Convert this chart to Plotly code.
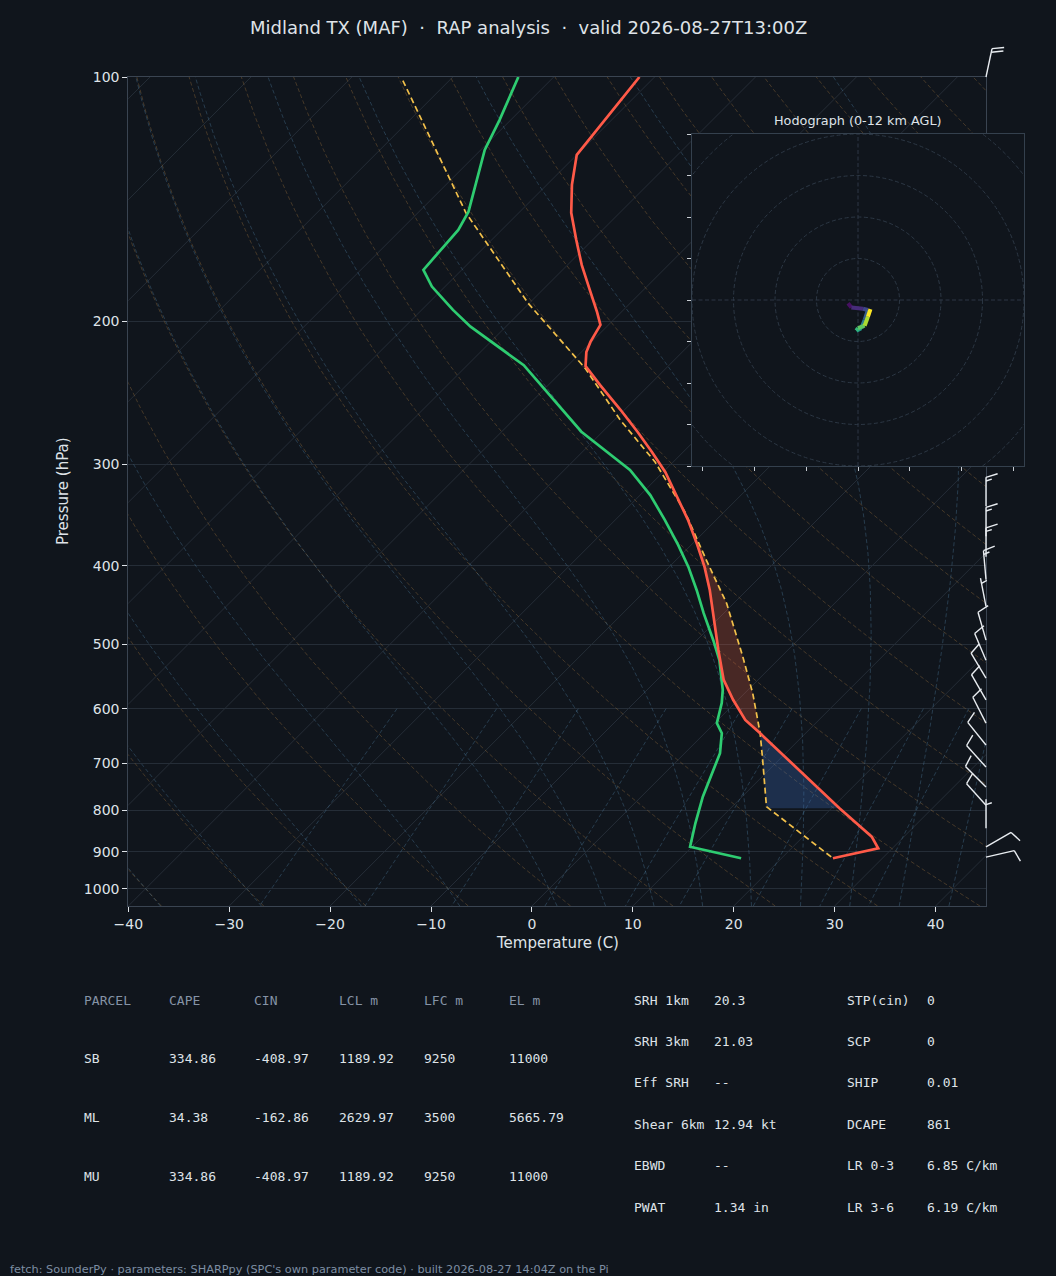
import numpy as np
import plotly.graph_objects as go
from plotly.colors import sample_colorscale

# --- sounding (hPa, degC) ---
env_p = [100, 124.7, 135.8, 147, 158.8, 170.4, 183, 194.8, 202, 212, 218.2, 227, 239.5, 257,
         273.7, 289.7, 306.6, 327.3, 351.2, 377, 401.3, 428.4, 466.5, 507.9, 553, 585, 619.4,
         643.3, 795.9, 862.5, 891.5, 917]
env_t = [-71.5, -70.0, -67.5, -64.8, -61.6, -58.6, -55.3, -52.4, -50.8, -50.1, -49.5, -48.2, -44.9,
         -40.4, -36.5, -33.1, -29.8, -26.4, -22.8, -19.4, -16.5, -13.7, -10.3, -6.9, -3.4, -0.5,
         2.7, 5.5, 20.8, 26.8, 28.6, 25.1]

dew_p = [100, 113, 123, 135.2, 146.5, 154.3, 172.8, 181.2, 193.6, 203, 226.5, 273.5, 297.8, 304.8,
         327.3, 351.2, 377, 401.3, 428.4, 457.6, 493.7, 522.6, 568.9, 590.5, 625, 643.3, 680.8,
         707.2, 770, 830.4, 887.5, 917]
dew_t = [-83.5, -81.1, -79.6, -77.2, -75.1, -74.3, -73.8, -71.3, -66.9, -63.5, -54.4, -42.1, -35.3,
         -33.5, -29.0, -25.1, -21.3, -18.1, -15.0, -12.0, -8.4, -5.8, -2.5, -1.3, 0.2, 1.7, 3.5,
         4.3, 6.1, 8.0, 9.8, 16.0]

parcel_p = [101, 147.1, 190, 228.5, 264.6, 298, 343.3, 393.6, 445, 517.8, 574.3, 643.3, 694, 792.2, 917]
parcel_t = [-94.6, -75.2, -60.1, -48.0, -39.4, -31.8, -23.9, -17.0, -10.7, -3.8, 0.8, 5.5, 8.4, 13.4, 25.1]
lcl_p = 796

# wind barbs (direction from, deg / speed, kt)
barb_p = [100, 338, 368, 390, 416, 449, 494, 523, 550, 585, 625, 665, 708, 749, 789, 842, 888, 914]
barb_dir = [12, 0, 0, 0, 355, 349, 344, 337, 329, 330, 333, 321, 318, 315, 318, 0, 60, 77]
barb_spd = [20, 15, 15, 15, 15, 5, 10, 10, 10, 10, 10, 10, 10, 10, 10, 5, 10, 10]

# hodograph (kt) coloured by height (km AGL)
hodo_z = [0, 0.5, 1.5, 2.5, 3.5, 5, 6.5, 8, 9, 10.5, 12]
hodo_u = [-2.4, -1.6, 1.2, 2.4, 1.6, 0.8, -0.4, 0.0, 1.6, 2.4, 3.0]
hodo_v = [-0.8, -1.8, -2.1, -2.4, -4.8, -6.8, -7.4, -6.8, -6.2, -4.0, -2.2]

t_ticks = list(range(-40, 41, 10))
p_ticks = [100, 200, 300, 400, 500, 600, 700, 800, 900, 1000]
p_bot, p_top = 1050, 100
t_left, t_right = -40, 45

# parameter table
parcel_cols = ["PARCEL", "CAPE", "CIN", "LCL m", "LFC m", "EL m"]
parcel_names = ["SB", "ML", "MU"]
cape = [334.86, 34.38, 334.86]
cin = [-408.97, -162.86, -408.97]
lcl_m = [1189.92, 2629.97, 1189.92]
lfc_m = [9250, 3500, 9250]
el_m = [11000, 5665.79, 11000]

kin_labels = ["SRH 1km", "SRH 3km", "Eff SRH", "Shear 6km", "EBWD", "PWAT"]
kin_values = ["20.3", "21.03", "--", "12.94 kt", "--", "1.34 in"]
idx_labels = ["STP(cin)", "SCP", "SHIP", "DCAPE", "LR 0-3", "LR 3-6"]
idx_values = ["0", "0", "0.01", "861", "6.85 C/km", "6.19 C/km"]

title = "Midland TX (MAF) \u00a0·\u00a0 RAP analysis \u00a0·\u00a0 valid 2026-08-27T13:00Z"
footer = "fetch: SounderPy · parameters: SHARPpy (SPC's own parameter code) · built 2026-08-27 14:04Z on the Pi"

# --- page geometry (px) ---
W, H = 1056, 1276
AX_L, AX_R, AX_T, AX_B = 128.3, 986.0, 77.0, 906.0
HD_L, HD_R, HD_T, HD_B = 692.0, 1024.0, 134.0, 466.0

BG = "#10151c"
FG = "#dfe3e8"
SPINE = "#3a4451"
GRID = "#252d37"
FONT = "DejaVu Sans"
MONO = "DejaVu Sans Mono"
FINE_DASH = "4px,2.5px"

PX_DEG = (AX_R - AX_L) / (t_right - t_left)
PX_DEC = (AX_B - AX_T) / np.log10(p_bot / p_top)
SKEW = PX_DEC / PX_DEG  # isotherms at 45 degrees


def skew_x(t, p):
    return np.asarray(t, float) + SKEW * np.log10(p_bot / np.asarray(p, float))


def join(lines):
    xs, ys = [], []
    for x, y in lines:
        xs += list(x) + [None]
        ys += list(y) + [None]
    return xs, ys


fig = go.Figure()
p_line = np.logspace(np.log10(p_bot), np.log10(p_top), 140)

# isotherms
iso = [(skew_x([t, t], [p_bot, p_top]), [p_bot, p_top]) for t in range(-130, 50, 10)]
x, y = join(iso)
fig.add_trace(go.Scatter(x=x, y=y, mode="lines", line=dict(color=GRID, width=1), hoverinfo="skip"))

# dry adiabats
dry = []
for th in np.arange(t_left, t_right + 201, 10):
    t = (th + 273.15) * (p_line / 1000.0) ** 0.2857 - 273.15
    dry.append((skew_x(t, p_line), p_line))
x, y = join(dry)
fig.add_trace(go.Scatter(x=x, y=y, mode="lines", hoverinfo="skip",
                         line=dict(color="rgba(150,110,60,0.40)", width=1, dash=FINE_DASH)))


# moist adiabats
def moist(t0, pres):
    Rd, Cp, Lv, eps = 287.04, 1005.7, 2.501e6, 0.622

    def f(T, p):
        es = 6.112 * np.exp(17.67 * (T - 273.15) / (T - 29.65))
        rs = eps * es / (p - es)
        return ((Rd * T + Lv * rs) / p) / (Cp + Lv * Lv * rs * eps / (Rd * T * T))

    T = np.asarray(t0, float) + 273.15
    out = [T]
    for i in range(len(pres) - 1):
        p0, h = pres[i], pres[i + 1] - pres[i]
        k1 = f(T, p0)
        k2 = f(T + h / 2 * k1, p0 + h / 2)
        k3 = f(T + h / 2 * k2, p0 + h / 2)
        k4 = f(T + h * k3, p0 + h)
        T = T + h / 6 * (k1 + 2 * k2 + 2 * k3 + k4)
        out.append(T)
    return np.array(out) - 273.15


t0s = np.concatenate((np.arange(t_left, 0, 10), np.arange(0, t_right + 51, 5)))
p_up = np.logspace(3, 2, 200)
p_dn = np.linspace(1000, p_bot, 10)
m_up = moist(t0s, p_up)
m_dn = moist(t0s, p_dn)
mst = []
for i in range(len(t0s)):
    pp = np.concatenate((p_dn[::-1], p_up[1:]))
    tt = np.concatenate((m_dn[::-1, i], m_up[1:, i]))
    mst.append((skew_x(tt, pp), pp))
x, y = join(mst)
fig.add_trace(go.Scatter(x=x, y=y, mode="lines", hoverinfo="skip",
                         line=dict(color="rgba(80,130,165,0.36)", width=1, dash=FINE_DASH)))

# mixing ratio lines
p_mix = np.linspace(600, p_bot, 30)
mix = []
for w in [0.0004, 0.001, 0.002, 0.004, 0.007, 0.01, 0.016, 0.024, 0.032]:
    e = w * p_mix / (0.622 + w)
    lg = np.log(e / 6.112)
    td = 243.5 * lg / (17.67 - lg)
    mix.append((skew_x(td, p_mix), p_mix))
x, y = join(mix)
fig.add_trace(go.Scatter(x=x, y=y, mode="lines", hoverinfo="skip",
                         line=dict(color="rgba(80,130,165,0.36)", width=1, dash=FINE_DASH)))

# CAPE / CIN shading
lp_env = np.log10(env_p)
lp_par = np.log10(parcel_p)
env_xs = skew_x(env_t, env_p)
par_xs = skew_x(parcel_t, parcel_p)


def shade(p_lo, p_hi, color):
    pg = np.logspace(np.log10(p_lo), np.log10(p_hi), 120)
    ex = np.interp(np.log10(pg), lp_env, env_xs)
    px_ = np.interp(np.log10(pg), lp_par, par_xs)
    fig.add_trace(go.Scatter(x=list(ex) + list(px_[::-1]), y=list(pg) + list(pg[::-1]),
                             fill="toself", fillcolor=color, mode="none", hoverinfo="skip"))


pg = np.logspace(np.log10(250), np.log10(lcl_p), 600)
diff = np.interp(np.log10(pg), lp_par, par_xs) - np.interp(np.log10(pg), lp_env, env_xs)
lfc = pg[np.where(diff > 0)[0].max()]
above = pg[pg < lfc]
neg = above[diff[pg < lfc] <= 0]
el = neg.max()
shade(el, lfc, "rgba(235,95,65,0.26)")
shade(lfc, lcl_p, "rgba(60,110,190,0.30)")

# profiles
fig.add_trace(go.Scatter(x=skew_x(parcel_t, parcel_p), y=parcel_p, mode="lines",
                         line=dict(color="#f2c04a", width=1.7, dash="6px,3.5px"), hoverinfo="skip"))
fig.add_trace(go.Scatter(x=skew_x(dew_t, dew_p), y=dew_p, mode="lines",
                         line=dict(color="#2ecc71", width=2.7), hoverinfo="skip"))
fig.add_trace(go.Scatter(x=skew_x(env_t, env_p), y=env_p, mode="lines",
                         line=dict(color="#ff5a48", width=2.7), hoverinfo="skip"))

# hodograph segments
cols = sample_colorscale("Viridis", [z / max(hodo_z) for z in hodo_z])
for i in range(len(hodo_z) - 1):
    fig.add_trace(go.Scatter(x=hodo_u[i:i + 2], y=hodo_v[i:i + 2], mode="lines", xaxis="x2", yaxis="y2",
                             line=dict(color=cols[i + 1], width=4), hoverinfo="skip"))

# wind barbs (matplotlib-like geometry, pixel sizes)
L = 29.0
FH, FW, SP = 0.4 * L, 0.25 * L, 0.125 * L
bx, by = [], []
for p, d, s in zip(barb_p, barb_dir, barb_spd):
    r = np.radians(d)
    dx, dy = np.sin(r), np.cos(r)
    nx, ny = dy, -dx

    def to_data(ox, oy, p=p):
        return t_right + ox / PX_DEG, p * 10 ** (-oy / PX_DEC)

    tip = (L * dx, L * dy)
    for (ox, oy) in [(0, 0), tip]:
        a, b = to_data(ox, oy)
        bx.append(a)
        by.append(b)
    bx.append(None)
    by.append(None)
    n5 = int(round(s / 5.0))
    nfull, half = divmod(n5, 2)
    off = 0.0
    for k in range(nfull):
        sx, sy = tip[0] - off * dx, tip[1] - off * dy
        ex, ey = sx + FH * nx + FW / 2 * dx, sy + FH * ny + FW / 2 * dy
        for (ox, oy) in [(sx, sy), (ex, ey)]:
            a, b = to_data(ox, oy)
            bx.append(a)
            by.append(b)
        bx.append(None)
        by.append(None)
        off += SP
    if half:
        if off == 0:
            off = 1.5 * SP
        sx, sy = tip[0] - off * dx, tip[1] - off * dy
        ex, ey = sx + FH / 2 * nx + FW / 4 * dx, sy + FH / 2 * ny + FW / 4 * dy
        for (ox, oy) in [(sx, sy), (ex, ey)]:
            a, b = to_data(ox, oy)
            bx.append(a)
            by.append(b)
        bx.append(None)
        by.append(None)
fig.add_trace(go.Scatter(x=bx, y=by, mode="lines", xaxis="x3", yaxis="y3",
                         line=dict(color="#e9edf1", width=1.4), hoverinfo="skip"))

# hodograph frame, rings and cross
HR = 40
shapes = [dict(type="rect", xref="x2", yref="y2", x0=-HR, x1=HR, y0=-HR, y1=HR, layer="below",
               fillcolor=BG, line=dict(width=0))]
for rr in [10, 20, 30, 40, 50]:
    shapes.append(dict(type="circle", xref="x2", yref="y2", x0=-rr, x1=rr, y0=-rr, y1=rr, layer="below",
                       line=dict(color="#2c3744", width=1, dash=FINE_DASH)))
shapes.append(dict(type="line", xref="x2", yref="y2", x0=-HR, x1=HR, y0=0, y1=0, layer="below",
                   line=dict(color="#2c3744", width=1, dash=FINE_DASH)))
shapes.append(dict(type="line", xref="x2", yref="y2", x0=0, x1=0, y0=-HR, y1=HR, layer="below",
                   line=dict(color="#2c3744", width=1, dash=FINE_DASH)))


def ann(text, x, y, size, color=FG, family=FONT, xanchor="left", **kw):
    return dict(text=text, x=x / W, y=1 - y / H, xref="paper", yref="paper", showarrow=False,
                xanchor=xanchor, yanchor="middle", font=dict(size=size, color=color, family=family), **kw)


anns = [ann(title, 528, 27, 18, xanchor="center"),
        ann("Temperature (C)", 557, 943, 15, xanchor="center"),
        ann("Pressure (hPa)", 63, 491, 15, xanchor="center", textangle=-90),
        ann("Hodograph (0-12 km AGL)", 858, 120, 12.8, xanchor="center"),
        ann(footer, 8, 1269, 11.3, color="#7d8ea3")]

col_x = [82, 167, 252, 337, 422, 507]
for cx, c in zip(col_x, parcel_cols):
    anns.append(ann(c, cx, 1000, 13, color="#8593a6", family=MONO))
for i, name in enumerate(parcel_names):
    yy = 1058 + i * 59
    vals = [name] + [f"{v:g}" for v in (cape[i], cin[i], lcl_m[i], lfc_m[i], el_m[i])]
    for cx, v in zip(col_x, vals):
        anns.append(ann(v, cx, yy, 13, family=MONO))
for i in range(len(kin_labels)):
    yy = 1000 + i * 41.4
    anns.append(ann(kin_labels[i], 632, yy, 13, family=MONO))
    anns.append(ann(kin_values[i], 712, yy, 13, family=MONO))
    anns.append(ann(idx_labels[i], 845, yy, 13, family=MONO))
    anns.append(ann(idx_values[i], 925, yy, 13, family=MONO))

tick_font = dict(size=14, color=FG, family=FONT)
fig.update_layout(
    width=W, height=H, autosize=False, margin=dict(l=0, r=0, t=0, b=0, pad=0, autoexpand=False),
    paper_bgcolor=BG, plot_bgcolor="rgba(0,0,0,0)", showlegend=False,
    xaxis=dict(domain=[AX_L / W, AX_R / W], range=[t_left, t_right], tickvals=t_ticks,
               ticktext=[str(t).replace("-", "\u2212") for t in t_ticks], ticks="outside", ticklen=5,
               tickcolor=FG, tickfont=tick_font, showgrid=False, zeroline=False, showline=True,
               mirror=True, linecolor=SPINE, linewidth=1, anchor="y", automargin=False),
    yaxis=dict(domain=[1 - AX_B / H, 1 - AX_T / H], type="log", range=[np.log10(p_bot), np.log10(p_top)],
               tickvals=p_ticks, ticktext=[str(p) for p in p_ticks], ticks="outside", ticklen=5,
               tickcolor=FG, tickfont=tick_font, showgrid=True, gridcolor=GRID, gridwidth=1,
               zeroline=False, showline=True, mirror=True, linecolor=SPINE, linewidth=1, anchor="x",
               automargin=False),
    xaxis2=dict(domain=[HD_L / W, HD_R / W], range=[-HR, HR], anchor="y2",
                tickvals=[-37.5, -25, -12.5, 0, 12.5, 25, 37.5], showticklabels=False, ticks="outside",
                ticklen=4, tickcolor="#c8cdd3", showgrid=False, zeroline=False, showline=True, mirror=True,
                linecolor="#34404d", linewidth=1, automargin=False),
    yaxis2=dict(domain=[1 - HD_B / H, 1 - HD_T / H], range=[-HR, HR], anchor="x2",
                tickvals=list(range(-40, 41, 10)), showticklabels=False, ticks="outside", ticklen=4,
                tickcolor="#c8cdd3", showgrid=False, zeroline=False, showline=True, mirror=True,
                linecolor="#34404d", linewidth=1, automargin=False),
    xaxis3=dict(domain=[AX_L / W, 1.0], range=[t_left, t_left + (W - AX_L) / PX_DEG], anchor="y3",
                visible=False, fixedrange=True, automargin=False),
    yaxis3=dict(domain=[0, 1], type="log", anchor="x3", visible=False, fixedrange=True, automargin=False,
                range=[np.log10(p_top) + (H - AX_T) / PX_DEC, np.log10(p_top) - AX_T / PX_DEC]),
    shapes=shapes, annotations=anns,
)

fig.write_html("out.html", config={"displayModeBar": False},
               post_script="document.body.style.margin='0';document.body.style.overflow='hidden';"
                           "document.body.style.background='" + BG + "';")
